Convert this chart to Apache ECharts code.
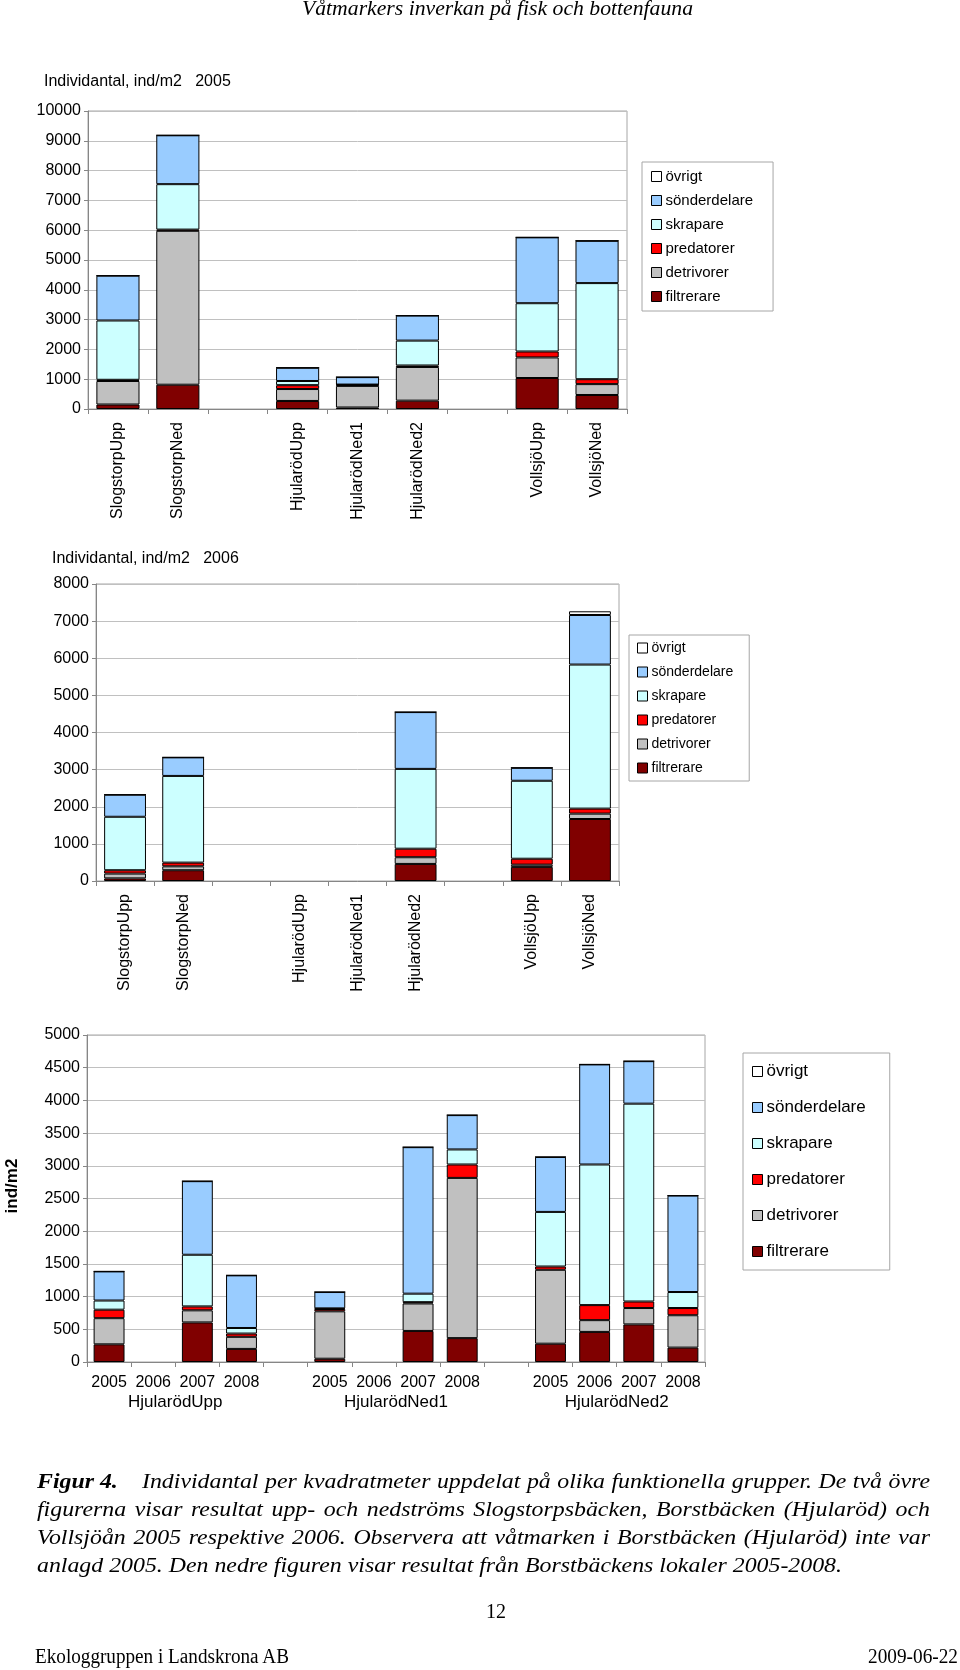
<!DOCTYPE html>
<html>
<head>
<meta charset="utf-8">
<script src="https://cdn.jsdelivr.net/npm/echarts@6/dist/echarts.min.js"></script>
<style>
html,body{margin:0;padding:0;background:#fff;}
#page{position:relative;width:960px;height:1670px;overflow:hidden;}
#chart{position:absolute;left:0;top:0;width:960px;height:1670px;}
.serif{position:absolute;font-family:"Liberation Serif","DejaVu Serif",serif;color:#000;font-size:20px;white-space:nowrap;z-index:2;}
.it{font-style:italic;}
#cap{position:absolute;left:37px;top:1467px;transform-origin:0 0;z-index:2;font-family:"Liberation Serif","DejaVu Serif",serif;font-style:italic;font-size:20px;line-height:28px;color:#000;}
#cap .ln{white-space:nowrap;}
#cap .j{text-align:justify;text-align-last:justify;}
#cap .fig{display:inline-block;font-weight:bold;text-align:left;text-align-last:left;}
</style>
</head>
<body>
<div id="page">
  <div id="chart"></div>
  <div id="hdr" class="serif it" style="left:302px;top:-4px;line-height:24px;transform-origin:0 0;">Våtmarkers inverkan på fisk och bottenfauna</div>
  <div id="cap">
    <div class="ln j"><span class="fig">Figur 4.</span>Individantal per kvadratmeter uppdelat på olika funktionella grupper. De två övre</div>
    <div class="ln j">figurerna visar resultat upp- och nedströms Slogstorpsbäcken, Borstbäcken (Hjularöd) och</div>
    <div class="ln j">Vollsjöån 2005 respektive 2006. Observera att våtmarken i Borstbäcken (Hjularöd) inte var</div>
    <div class="ln" id="ln4">anlagd 2005. Den nedre figuren visar resultat från Borstbäckens lokaler 2005-2008.</div>
  </div>
  <div id="pg" class="serif" style="left:486px;top:1599px;line-height:24px;">12</div>
  <div id="ft1" class="serif" style="left:35px;top:1644px;line-height:24px;transform-origin:0 0;">Ekologgruppen i Landskrona AB</div>
  <div id="ft2" class="serif" style="left:868px;top:1644px;line-height:24px;transform-origin:0 0;">2009-06-22</div>
</div>
<script>
// ---------------- DATA ----------------
const seriesNames = ['filtrerare','detrivorer','predatorer','skrapare','sönderdelare','övrigt'];
const legendOrder = ['övrigt','sönderdelare','skrapare','predatorer','detrivorer','filtrerare'];
const seriesColors = ['#800000','#C0C0C0','#FF0000','#CCFFFF','#99CCFF','#FFFFFF'];

// Chart 1: 2005
const sites1 = ['SlogstorpUpp','SlogstorpNed',' ','HjularödUpp','HjularödNed1','HjularödNed2','  ','VollsjöUpp','VollsjöNed'];
const filt2005  = [150, 815, null, 270, 50, 280, null, 1040, 470];
const detr2005  = [790, 5165, null, 400, 725, 1130, null, 690, 365];
const pred2005  = [40, 40, null, 130, 35, 50, null, 200, 165];
const skrap2005 = [1990, 1525, null, 140, 10, 835, null, 1620, 3225];
const sond2005  = [1505, 1640, null, 445, 250, 840, null, 2210, 1420];
const ovr2005   = [0, 0, null, 0, 0, 0, null, 0, 0];

// Chart 2: 2006
const sites2 = sites1;
const filt2006  = [70, 290, null, null, null, 460, null, 380, 1670];
const detr2006  = [130, 105, null, null, null, 180, null, 60, 145];
const pred2006  = [90, 100, null, null, null, 230, null, 160, 135];
const skrap2006 = [1440, 2335, null, null, null, 2150, null, 2100, 3880];
const sond2006  = [595, 500, null, null, null, 1530, null, 350, 1335];
const ovr2006   = [0, 0, null, null, null, 0, null, 0, 100];

// Chart 3: Borstbäcken (Hjularöd) 2005-2008
const groups3 = ['HjularödUpp','HjularödNed1','HjularödNed2'];
const years3 = ['2005','2006','2007','2008'];
const filt3  = [270, null, 605, 200, null, 50, null, 475, 365, null, 280, 460, 575, 220];
const detr3  = [400, null, 185, 185, null, 725, null, 420, 2450, null, 1130, 180, 250, 495];
const pred3  = [130, null, 60, 50, null, 35, null, 20, 205, null, 50, 230, 100, 110];
const skrap3 = [140, null, 790, 85, null, 10, null, 130, 230, null, 835, 2150, 3025, 245];
const sond3  = [445, null, 1125, 805, null, 250, null, 2240, 525, null, 840, 1530, 650, 1475];
const ovr3   = [0, null, 0, 0, null, 0, null, 0, 0, null, 0, 0, 0, 0];

// ---------------- BUILD ----------------
const FONT = '"Liberation Sans", Arial, sans-serif';
const slots3 = [];
groups3.forEach((g, gi) => {
  years3.forEach(y => slots3.push(g + '|' + y));
  if (gi < groups3.length - 1) slots3.push('gap' + gi);
});
// half-slot axis for centred group names (boundaryGap false, 2*slots+1 positions)
const half3 = [];
const halfLabel = {};
for (let i = 0; i <= slots3.length * 2; i++) half3.push('h' + i);
groups3.forEach((g, gi) => { halfLabel[4 + gi * 10] = g; });

const axisGrey = '#868686';
const gridGrey = '#c0c0c0';

function yAxis(grid, max, interval) {
  return {
    type: 'value', gridIndex: grid, min: 0, max: max, interval: interval,
    axisLine: {show: true, lineStyle: {color: axisGrey}},
    axisTick: {show: true, length: 4, lineStyle: {color: axisGrey}},
    splitLine: {show: true, lineStyle: {color: gridGrey}},
    axisLabel: {color: '#000', fontSize: 16, fontFamily: FONT, margin: 7, formatter: v => String(v)}
  };
}
function catAxis(grid, data, extra) {
  return Object.assign({
    type: 'category', gridIndex: grid, data: data, position: 'bottom',
    axisLine: {show: true, lineStyle: {color: axisGrey}},
    axisTick: {show: true, length: 5, interval: 0, lineStyle: {color: axisGrey}},
    splitLine: {show: false}
  }, extra);
}
function makeSeries(ax, stack, lists, gap) {
  return lists.map((vals, i) => ({
    name: seriesNames[i], type: 'bar', stack: stack,
    xAxisIndex: ax, yAxisIndex: ax, data: vals,
    barCategoryGap: gap,
    itemStyle: {color: seriesColors[i], borderColor: '#000', borderWidth: 1},
    emphasis: {disabled: true},
    animation: false
  }));
}
function legend(left, top, gap, fs, pad) {
  return {
    orient: 'vertical', left: left, top: top, data: legendOrder,
    icon: 'rect', itemWidth: 10, itemHeight: 10, itemGap: gap,
    padding: pad, borderColor: '#a6a6a6', borderWidth: 1,
    selectedMode: false,
    itemStyle: {borderColor: '#000', borderWidth: 1},
    textStyle: {fontSize: fs, fontFamily: FONT, color: '#000', padding: [0, 0, 0, -1]}
  };
}

const option = {
  animation: false,
  backgroundColor: '#fff',
  textStyle: {fontFamily: FONT},
  title: [
    {text: 'Individantal, ind/m2   2005', left: 44, top: 74, padding: 0,
     textStyle: {fontSize: 16, fontWeight: 'normal', fontFamily: FONT, color: '#000'}},
    {text: 'Individantal, ind/m2   2006', left: 52, top: 551, padding: 0,
     textStyle: {fontSize: 16, fontWeight: 'normal', fontFamily: FONT, color: '#000'}}
  ],
  grid: [
    {left: 88, top: 111, width: 539, height: 298, show: true, borderColor: '#a6a6a6', borderWidth: 1},
    {left: 96, top: 584, width: 523, height: 297, show: true, borderColor: '#a6a6a6', borderWidth: 1},
    {left: 87, top: 1035, width: 618, height: 327, show: true, borderColor: '#a6a6a6', borderWidth: 1}
  ],
  xAxis: [
    catAxis(0, sites1, {axisLabel: {rotate: 90, interval: 0, fontSize: 16, fontFamily: FONT, color: '#000', margin: 13}}),
    catAxis(1, sites2, {axisLabel: {rotate: 90, interval: 0, fontSize: 16, fontFamily: FONT, color: '#000', margin: 13}}),
    catAxis(2, slots3, {axisLabel: {interval: 0, fontSize: 16, fontFamily: FONT, color: '#000', margin: 13,
      formatter: v => (v.indexOf('|') >= 0 ? v.split('|')[1] : '')}}),
    {type: 'category', gridIndex: 2, data: half3, position: 'bottom', boundaryGap: false,
     axisLine: {show: false}, axisTick: {show: false}, splitLine: {show: false},
     axisLabel: {interval: 0, fontSize: 17, fontFamily: FONT, color: '#000', margin: 32,
       formatter: (v, idx) => halfLabel[idx] || ''}}
  ],
  yAxis: [yAxis(0, 10000, 1000), yAxis(1, 8000, 1000), yAxis(2, 5000, 500)],
  legend: [
    legend(642, 162, 9, 15, [7, 20, 7, 9]),
    legend(629, 635, 10, 14, [6, 16, 6, 8]),
    legend(743, 1053, 19, 17, [10, 24, 10, 9])
  ],
  graphic: [
    {type: 'text', x: 12, y: 1186, rotation: Math.PI / 2,
     style: {text: 'ind/m2', font: 'bold 17px "Liberation Sans", Arial, sans-serif', fill: '#000', align: 'center', verticalAlign: 'middle'}}
  ],
  series: [].concat(
    makeSeries(0, 's2005', [filt2005, detr2005, pred2005, skrap2005, sond2005, ovr2005], '28%'),
    makeSeries(1, 's2006', [filt2006, detr2006, pred2006, skrap2006, sond2006, ovr2006], '28%'),
    makeSeries(2, 'sH', [filt3, detr3, pred3, skrap3, sond3, ovr3], '30%')
  )
};
const chart = echarts.init(document.getElementById('chart'));
chart.setOption(option);

// ---------------- TEXT FITTING (serif page text) ----------------
function fitWidth(el, target) {
  const w = el.getBoundingClientRect().width;
  if (w > 0) el.style.transform = 'scaleX(' + (target / w) + ')';
}
fitWidth(document.getElementById('hdr'), 391);
fitWidth(document.getElementById('ft1'), 254);
fitWidth(document.getElementById('ft2'), 90);
(function () {
  const cap = document.getElementById('cap');
  const ln4 = document.getElementById('ln4');
  ln4.style.display = 'inline-block';
  const w4 = ln4.getBoundingClientRect().width;
  ln4.style.display = 'block';
  const s = 805 / w4;
  cap.style.width = (893 / s) + 'px';
  cap.style.transform = 'scaleX(' + s + ')';
  cap.querySelector('.fig').style.width = (105 / s) + 'px';
})();
</script>
</body>
</html>
